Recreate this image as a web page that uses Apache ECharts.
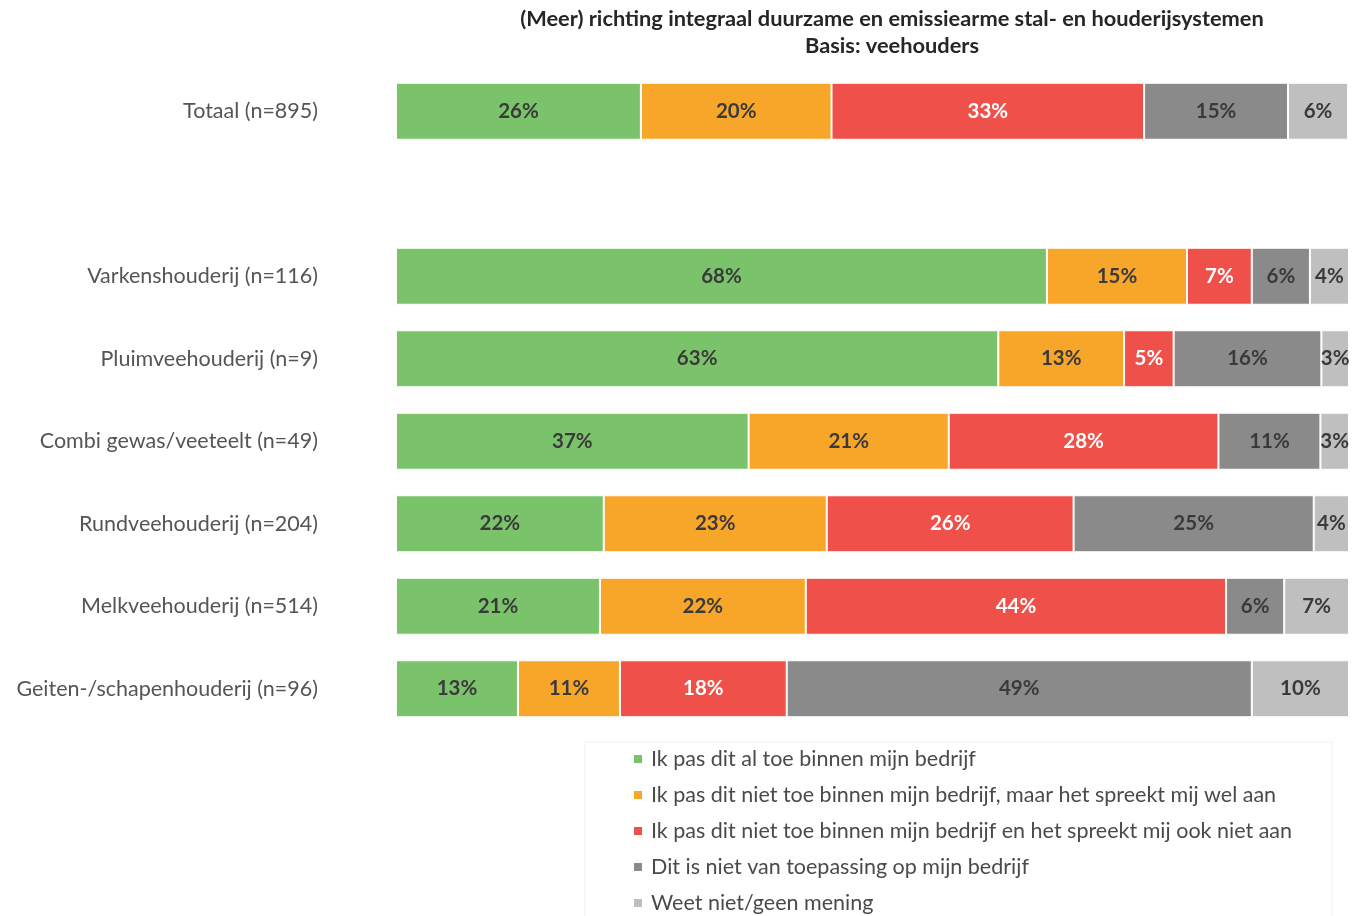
<!DOCTYPE html>
<html>
<head>
<meta charset="utf-8">
<script src="https://cdn.jsdelivr.net/npm/echarts@6/dist/echarts.min.js"></script>
<style>html,body{margin:0;padding:0;background:#fff}#c{width:1357px;height:916px}</style>
</head>
<body>
<div id="c"></div>
<script>
const categories = ['Totaal (n=895)', '', 'Varkenshouderij (n=116)', 'Pluimveehouderij (n=9)', 'Combi gewas/veeteelt (n=49)', 'Rundveehouderij (n=204)', 'Melkveehouderij (n=514)', 'Geiten-/schapenhouderij (n=96)'];
const seriesNames = [
  'Ik pas dit al toe binnen mijn bedrijf',
  'Ik pas dit niet toe binnen mijn bedrijf, maar het spreekt mij wel aan',
  'Ik pas dit niet toe binnen mijn bedrijf en het spreekt mij ook niet aan',
  'Dit is niet van toepassing op mijn bedrijf',
  'Weet niet/geen mening'
];
// values per series, one per category (null = empty spacer row)
const pastToe     = [25.7, null, 68.3, 63.2, 37.0, 21.8, 21.4, 12.8];
const spreektAan  = [20.0, null, 14.7, 13.2, 21.0, 23.4, 21.6, 10.7];
const spreektNiet = [32.8, null,  6.8,  5.2, 28.3, 25.9, 44.1, 17.5];
const nvt         = [15.1, null,  6.1, 15.5, 10.7, 25.2,  6.1, 48.8];
const weetNiet    = [ 6.3, null,  4.1,  2.9,  3.0,  3.7,  6.8, 10.2];
const seriesData = [pastToe, spreektAan, spreektNiet, nvt, weetNiet];
const colors = ['#7BC36A', '#F8A62A', '#F0504A', '#8A8A8A', '#BFBFBF'];
const labelColors = ['#3a3a3a', '#3a3a3a', '#ffffff', '#3a3a3a', '#3a3a3a'];

const FONT = 'Lato';
const chart = echarts.init(document.getElementById('c'));
chart.setOption({
  animation: false,
  title: {
    text: '(Meer) richting integraal duurzame en emissiearme stal- en houderijsystemen\nBasis: veehouders',
    left: 887, top: 0, textAlign: 'center',
    textStyle: { fontFamily: FONT, fontSize: 21.8, fontWeight: 'bold', color: '#262626', lineHeight: 27 }
  },
  legend: {
    orient: 'vertical', left: 585, top: 742, height: 260,
    padding: [6, 40, 20, 47],
    borderColor: '#f0f0f0', borderWidth: 1,
    icon: 'rect', itemWidth: 10, itemHeight: 10, itemGap: 14,
    textStyle: { fontFamily: FONT, fontSize: 21.5, color: '#4a4a4a', lineHeight: 22, padding: [0, 0, 0, 3] },
    data: seriesNames
  },
  grid: { left: 396, right: 8, top: 70, bottom: 186, containLabel: false },
  xAxis: { type: 'value', min: 0, max: 100, show: false },
  yAxis: {
    type: 'category', inverse: true, data: categories,
    axisLine: { show: false }, axisTick: { show: false }, splitLine: { show: false },
    axisLabel: { margin: 78, fontFamily: FONT, fontSize: 21.5, color: '#555555' }
  },
  series: seriesData.map((d, i) => ({
    name: seriesNames[i], type: 'bar', stack: 'tot', data: d, barWidth: 57,
    itemStyle: { color: colors[i], borderColor: '#ffffff', borderWidth: 1 },
    label: {
      show: true, position: 'inside', fontFamily: FONT, fontSize: 20.5, fontWeight: 'bold',
      color: labelColors[i],
      formatter: p => (p.value == null ? '' : Math.round(p.value) + '%')
    }
  }))
});
</script>
</body>
</html>
